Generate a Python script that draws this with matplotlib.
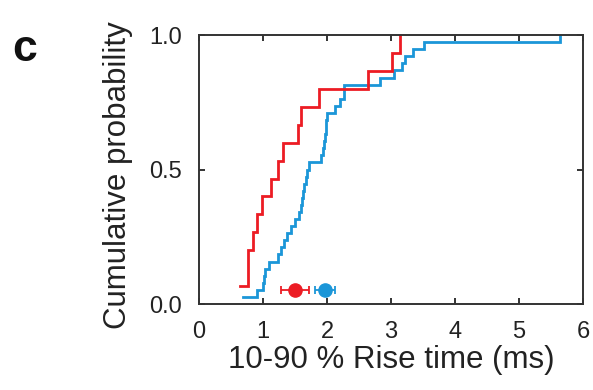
import numpy as np
import matplotlib.pyplot as plt

plt.rcParams['font.family'] = ['Liberation Sans', 'DejaVu Sans']

# rise times (ms)
red_times = [0.64, 0.76, 0.76, 0.84, 0.90, 0.98, 1.13, 1.23, 1.32,
             1.55, 1.60, 1.87, 2.64, 3.02, 3.14]
blue_times = [0.68, 0.90, 1.00, 1.01, 1.03, 1.09, 1.23, 1.28, 1.33, 1.38,
              1.43, 1.50, 1.56, 1.59, 1.61, 1.62, 1.64, 1.67, 1.69, 1.72,
              1.90, 1.93, 1.95, 1.97, 1.98, 1.99, 2.00, 2.12, 2.20, 2.27,
              2.27, 2.83, 3.05, 3.17, 3.22, 3.34, 3.51, 5.64]

# mean +/- error, drawn near the bottom
red_mean, red_err = 1.50, 0.22
blue_mean, blue_err = 1.97, 0.15
mean_y = 0.053

red = '#ec1c24'
blue = '#1b96d8'
grey = '#333333'

fig = plt.figure(figsize=(5.93, 3.90), dpi=100)
ax = fig.add_axes([0.3356, 0.2205, 0.6475, 0.6895])


def ecdf(vals):
    x = np.sort(np.asarray(vals))
    y = np.arange(1, len(x) + 1) / len(x)
    return x, y


for vals, col in [(blue_times, blue), (red_times, red)]:
    x, y = ecdf(vals)
    ax.step(x, y, where='post', color=col, lw=2, solid_joinstyle='miter')

ax.errorbar([red_mean], [mean_y], xerr=[red_err], fmt='o', color=red,
            ms=9.5, capsize=3, elinewidth=1.3, capthick=1.3)
ax.errorbar([blue_mean], [mean_y], xerr=[blue_err], fmt='o', color=blue,
            ms=9.5, capsize=3, elinewidth=1.3, capthick=1.3)

ax.set_xlim(0, 6)
ax.set_ylim(0, 1)
ax.set_xticks(range(7))
ax.set_yticks([0, 0.5, 1.0])
ax.set_yticklabels(['0.0', '0.5', '1.0'])

for s in ax.spines.values():
    s.set_color(grey)
    s.set_linewidth(1.4)
ax.tick_params(direction='in', length=4.5, width=1.4, color=grey,
               top=True, right=True, labelsize=17, labelcolor='#222222')
ax.tick_params(axis='y', pad=12)
ax.tick_params(axis='x', pad=12)

ax.set_xlabel('10-90 % Rise time (ms)', fontsize=22.5, color='#222222', labelpad=2)
ax.set_ylabel('Cumulative probability', fontsize=22.5, color='#222222')
ax.yaxis.set_label_coords(-0.172, 0.48)

fig.text(0.042, 0.872, 'c', fontsize=32, fontweight='bold', color='#111111',
         ha='center', va='center')

fig.savefig('out.png', dpi=100)
